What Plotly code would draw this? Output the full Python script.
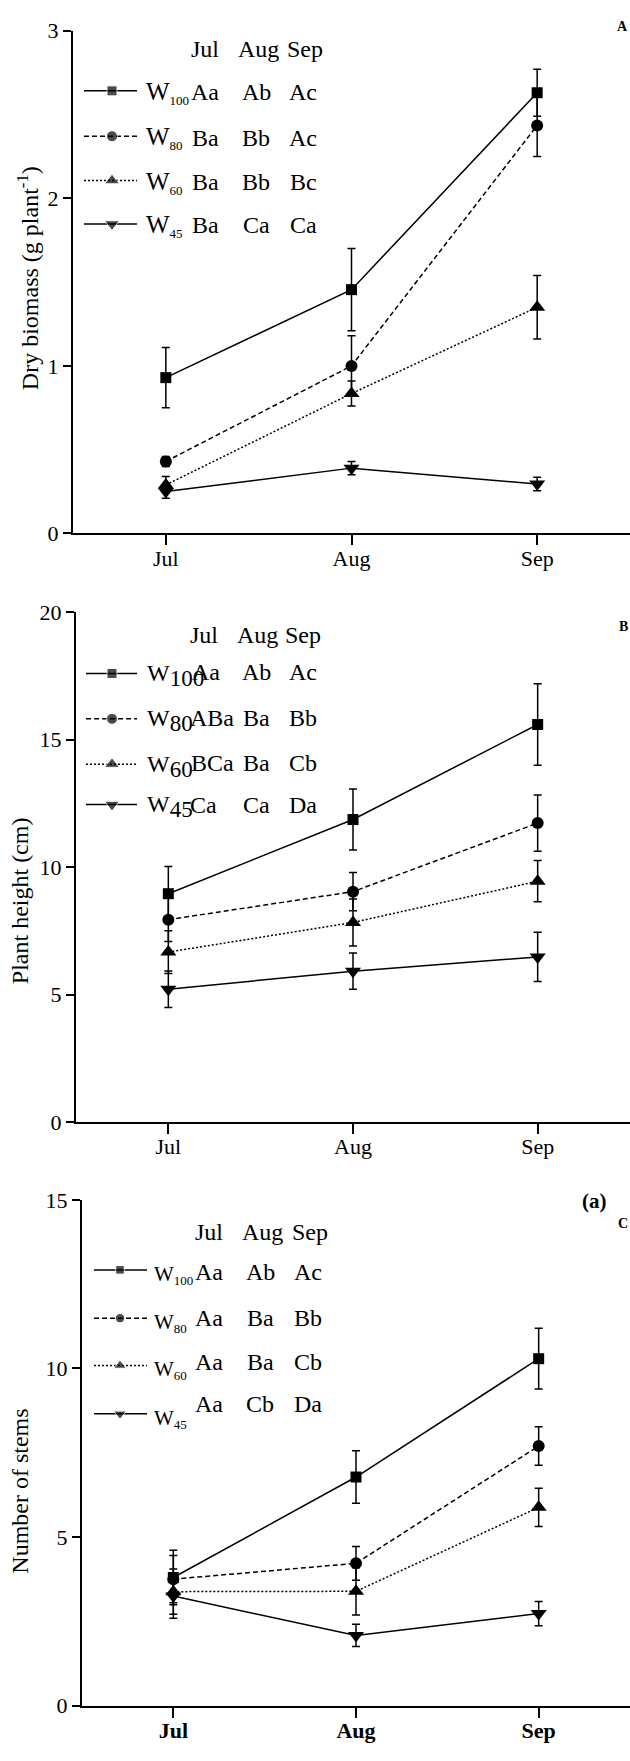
import plotly.graph_objects as go

W, H = 630, 1761
FONT = "Liberation Serif"

# ---------------- data ----------------
months = ["Jul", "Aug", "Sep"]
treat_main = ["W", "W", "W", "W"]
treat_sub = ["100", "80", "60", "45"]

biomass_W100 = [0.93, 1.455, 2.63]
biomass_W80 = [0.43, 1.00, 2.435]
biomass_W60 = [0.29, 0.835, 1.35]
biomass_W45 = [0.25, 0.39, 0.295]
biomass_err_W100 = [0.18, 0.245, 0.14]
biomass_err_W80 = [0.03, 0.18, 0.185]
biomass_err_W60 = [0.05, 0.075, 0.19]
biomass_err_W45 = [0.04, 0.04, 0.04]

height_W100 = [8.96, 11.87, 15.6]
height_W80 = [7.94, 9.04, 11.73]
height_W60 = [6.67, 7.83, 9.45]
height_W45 = [5.21, 5.92, 6.48]
height_err_W100 = [1.07, 1.2, 1.6]
height_err_W80 = [0.86, 0.75, 1.1]
height_err_W60 = [0.84, 0.92, 0.81]
height_err_W45 = [0.72, 0.71, 0.97]

stems_W100 = [3.8, 6.78, 10.29]
stems_W80 = [3.75, 4.22, 7.7]
stems_W60 = [3.38, 3.39, 5.88]
stems_W45 = [3.25, 2.08, 2.73]
stems_err_W100 = [0.81, 0.78, 0.9]
stems_err_W80 = [0.7, 0.5, 0.57]
stems_err_W60 = [0.67, 0.7, 0.57]
stems_err_W45 = [0.66, 0.33, 0.36]

letters_A = [["Aa", "Ab", "Ac"], ["Ba", "Bb", "Ac"], ["Ba", "Bb", "Bc"], ["Ba", "Ca", "Ca"]]
letters_B = [["Aa", "Ab", "Ac"], ["ABa", "Ba", "Bb"], ["BCa", "Ba", "Cb"], ["Ca", "Ca", "Da"]]
letters_C = [["Aa", "Ab", "Ac"], ["Aa", "Ba", "Bb"], ["Aa", "Ba", "Cb"], ["Aa", "Cb", "Da"]]

yticks_A = [0, 1, 2, 3]
yticks_B = [0, 5, 10, 15, 20]
yticks_C = [0, 5, 10, 15]

# ---------------- styles ----------------
dashes = ["solid", "5px,3px", "2px,2px", "solid"]
symbols = ["square", "circle", "triangle-up", "triangle-down"]
msizes = [11, 12, 14, 14]
leg_msizes = [10, 11, 13, 13]
TXT = 24
TICK = 22
TITLE = 24

panels = [
    dict(vals=[biomass_W100, biomass_W80, biomass_W60, biomass_W45],
         errs=[biomass_err_W100, biomass_err_W80, biomass_err_W60, biomass_err_W45],
         letters=letters_A, yticks=yticks_A, left=73, top=19, bottom=529,
         title="Dry biomass (g plant<sup>-1</sup>)", title_x=28, title_y=270,
         label="A", label_y=15, bold_x=False,
         head_y=38, head_x=[205, 258, 305], rows_y=[80, 126, 171, 215],
         line_x=[84, 112, 137], w_x=144, w_dy=2, w_size=25, sub_size=13,
         let_x=[[205, 256, 303]] * 4, let_y=[81, 128, 172, 216], mscale=1.0),
    dict(vals=[height_W100, height_W80, height_W60, height_W45],
         errs=[height_err_W100, height_err_W80, height_err_W60, height_err_W45],
         letters=letters_B, yticks=yticks_B, left=76, top=609, bottom=1126,
         title="Plant height (cm)", title_x=20, title_y=902,
         label="B", label_y=623, bold_x=False,
         head_y=632, head_x=[204, 257, 303], rows_y=[671, 717, 763, 804],
         line_x=[86, 112, 137], w_x=145, w_dy=2, w_size=24, sub_size=23,
         let_x=[[206, 256, 303], [212, 256, 303], [212, 256, 303], [203, 256, 303]],
         let_y=[670, 716, 762, 804], mscale=1.0),
    dict(vals=[stems_W100, stems_W80, stems_W60, stems_W45],
         errs=[stems_err_W100, stems_err_W80, stems_err_W60, stems_err_W45],
         letters=letters_C, yticks=yticks_C, left=82, top=1205, bottom=1718,
         title="Number of stems", title_x=20, title_y=1501,
         label="C", label_y=1229, bold_x=True,
         head_y=1238, head_x=[209, 262, 310], rows_y=[1276, 1325, 1373, 1422],
         line_x=[94, 120, 147], w_x=152, w_dy=5, w_size=21, sub_size=13,
         let_x=[[209, 260, 308]] * 4, let_y=[1278, 1325, 1369, 1412], mscale=0.85),
]

fig = go.Figure()
annotations = []
layout = dict(
    width=W, height=H, margin=dict(l=0, r=0, t=0, b=0),
    paper_bgcolor="white", plot_bgcolor="white", showlegend=False,
    font=dict(family=FONT, size=TXT, color="black"),
)

for i, p in enumerate(panels):
    n = i + 1
    ox = i + 4
    xa = "x" if n == 1 else f"x{n}"
    ya = "y" if n == 1 else f"y{n}"
    xo, yo = f"x{ox}", f"y{ox}"
    dom_x = [p["left"] / W, 1.0]
    dom_y = [1 - p["bottom"] / H, 1 - p["top"] / H]

    for k in range(4):
        fig.add_trace(go.Scatter(
            x=months, y=p["vals"][k], xaxis=xa, yaxis=ya,
            mode="lines+markers",
            line=dict(color="black", width=1.5, dash=dashes[k]),
            marker=dict(symbol=symbols[k], size=msizes[k], color="black"),
            error_y=dict(type="data", array=p["errs"][k], visible=True,
                         color="black", thickness=1.5, width=4),
            cliponaxis=False,
        ))
        # legend sample (overlay axes in pixel units)
        ry = p["rows_y"][k]
        fig.add_trace(go.Scatter(
            x=p["line_x"], y=[ry, ry, ry], xaxis=xo, yaxis=yo,
            mode="lines+markers",
            line=dict(color="black", width=1.5, dash=dashes[k]),
            marker=dict(symbol=symbols[k],
                        size=[0, leg_msizes[k] * p["mscale"], 0], color="black"),
            cliponaxis=False,
        ))
        wtxt = (f'W<sub><span style="font-size:{p["sub_size"]}px">'
                f'{treat_sub[k]}</span></sub>')
        annotations.append(dict(
            x=p["w_x"], y=ry + p["w_dy"], xref=xo, yref=yo, text=wtxt,
            showarrow=False, xanchor="left", yanchor="middle",
            font=dict(family=FONT, size=p["w_size"], color="black")))
        for j in range(3):
            annotations.append(dict(
                x=p["let_x"][k][j], y=p["let_y"][k], xref=xo, yref=yo,
                text=p["letters"][k][j], showarrow=False,
                xanchor="center", yanchor="middle",
                font=dict(family=FONT, size=TXT, color="black")))
    for j in range(3):
        annotations.append(dict(
            x=p["head_x"][j], y=p["head_y"], xref=xo, yref=yo, text=months[j],
            showarrow=False, xanchor="center", yanchor="middle",
            font=dict(family=FONT, size=TXT, color="black")))
    annotations.append(dict(
        x=p["title_x"] / W, y=1 - p["title_y"] / H, xref="paper", yref="paper",
        text=p["title"], textangle=-90, showarrow=False,
        xanchor="center", yanchor="middle",
        font=dict(family=FONT, size=TITLE, color="black")))
    annotations.append(dict(
        x=1.0, y=1 - p["label_y"] / H, xref="paper", yref="paper",
        text=f"<b>{p['label']}</b>", showarrow=False, xanchor="right",
        yanchor="middle", font=dict(family=FONT, size=14, color="black")))

    xkey = "xaxis" if n == 1 else f"xaxis{n}"
    ykey = "yaxis" if n == 1 else f"yaxis{n}"
    xt = [f"<b>{m}</b>" for m in months] if p["bold_x"] else months
    layout[xkey] = dict(
        domain=dom_x, anchor=ya, type="category", range=[-0.5, 2.5],
        categoryorder="array", categoryarray=months,
        tickvals=months, ticktext=xt,
        showline=True, linewidth=2, linecolor="black", mirror=False,
        ticks="outside", ticklen=10, tickwidth=2, tickcolor="black",
        showgrid=False, zeroline=False, ticklabelstandoff=-6,
        tickfont=dict(family=FONT, size=TICK, color="black"),
    )
    layout[ykey] = dict(
        domain=dom_y, anchor=xa, range=[p["yticks"][0], p["yticks"][-1]],
        tickvals=p["yticks"], showline=True, linewidth=2, linecolor="black",
        ticks="outside", ticklen=8, tickwidth=2, tickcolor="black",
        showgrid=False, zeroline=False,
        tickfont=dict(family=FONT, size=TICK, color="black"),
    )
    layout[f"xaxis{ox}"] = dict(
        overlaying=xa, anchor=yo, range=[p["left"], W], visible=False,
        showgrid=False, zeroline=False)
    layout[f"yaxis{ox}"] = dict(
        overlaying=ya, anchor=xo, range=[p["bottom"], p["top"]], visible=False,
        showgrid=False, zeroline=False)

annotations.append(dict(
    x=594 / W, y=1 - 1206 / H, xref="paper", yref="paper", text="<b>(a)</b>",
    showarrow=False, xanchor="center", yanchor="middle",
    font=dict(family=FONT, size=21, color="black")))

layout["annotations"] = annotations
fig.update_layout(**layout)
fig.write_html("out.html")
